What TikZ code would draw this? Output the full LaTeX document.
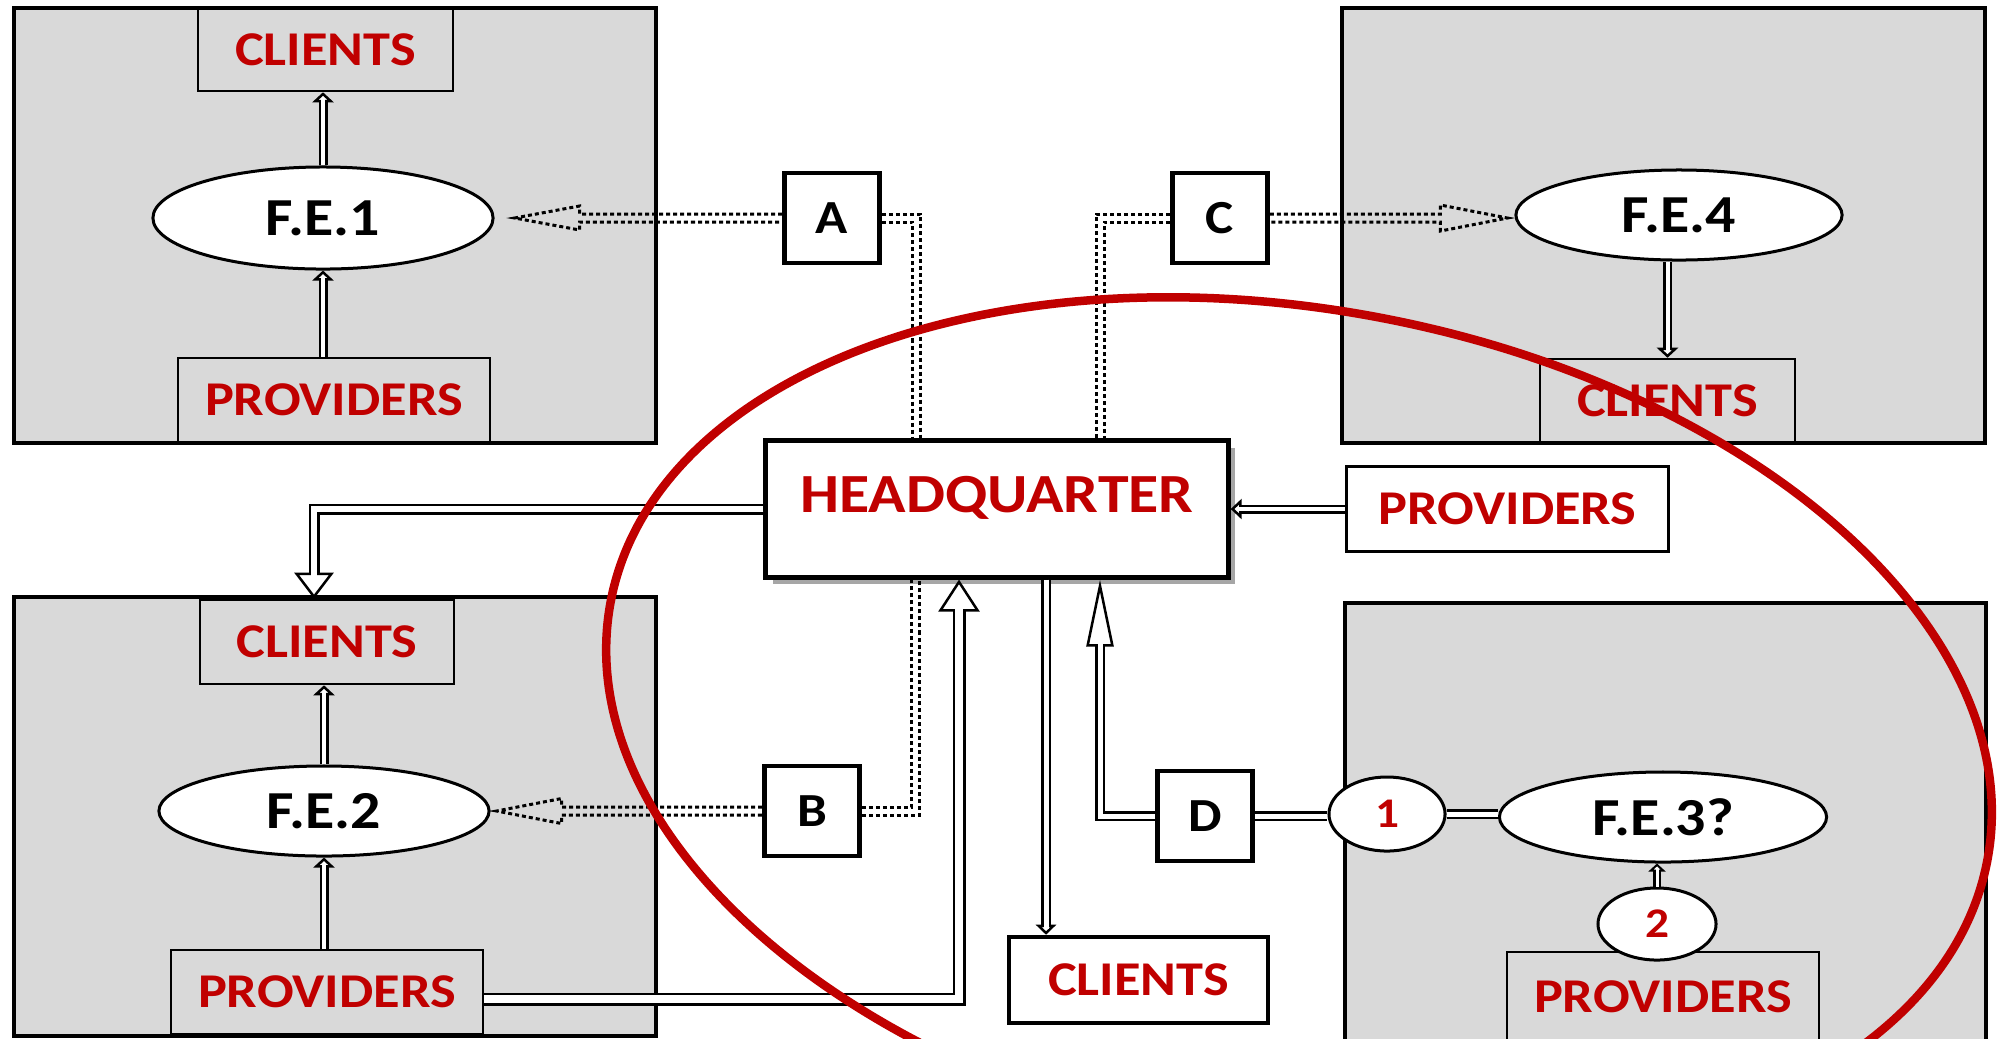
\documentclass[tikz,border=0pt]{standalone}
\usepackage{fontspec}
\setmainfont{Carlito}[FakeStretch=1.12]
\usetikzlibrary{arrows.meta,calc,shadows,shapes.geometric}
\definecolor{dred}{HTML}{C00000}
\definecolor{fgray}{HTML}{D9D9D9}
\begin{document}
\begin{tikzpicture}[x=0.01cm,y=-0.01cm,
  frame/.style={draw, fill=fgray, line width=0.045cm, inner sep=0pt},
  ibox/.style={draw, line width=0.025cm, inner sep=0pt, text=dred, font=\fontsize{13.8}{16}\selectfont\bfseries},
  wbox/.style={draw, fill=white, inner sep=0pt, text=dred, font=\fontsize{13.8}{16}\selectfont\bfseries},
  fe/.style={ellipse, draw, fill=white, line width=0.03cm, inner sep=0pt, font=\fontsize{15.2}{18}\selectfont\bfseries},
  num/.style={ellipse, draw, fill=white, line width=0.03cm, inner sep=0pt, text=dred, font=\fontsize{12}{14}\selectfont\bfseries, minimum width=1.16cm, minimum height=0.74cm},
  lbox/.style={draw, fill=white, line width=0.045cm, inner sep=0pt, font=\fontsize{13.5}{16}\selectfont\bfseries, minimum width=0.95cm, minimum height=0.9cm},
  dotline/.style={line width=0.03cm, dash pattern=on 0.04cm off 0.03cm},
  hollow/.style n args={3}{line width=0.025cm, -{Triangle[length=#2, width=#3, fill=white]},
    preaction={draw, -, line width=#1, shorten >=#2-0.015cm},
    postaction={draw, -, white, line width=#1-0.05cm, shorten >=#2-0.04cm}},
  dline/.style={line width=#1, postaction={draw, white, line width=#1-0.05cm}}
]
\useasboundingbox (0,0) rectangle (1997,1038);
\fill[white] (0,0) rectangle (1997,1038);

% frames
\node[frame, minimum width=6.42cm, minimum height=4.35cm] (fr1) at (335,225.5) {};
\node[frame, minimum width=6.43cm, minimum height=4.35cm] (fr3) at (1663.5,225.5) {};
\node[frame, minimum width=6.42cm, minimum height=4.39cm] (fr2) at (335,816.5) {};
\node[frame, minimum width=6.41cm, minimum height=4.4cm] (fr4) at (1665.5,823) {};

% top-left
\node[ibox, minimum width=2.55cm, minimum height=0.82cm] (cl1) at (325.5,50) {CLIENTS};
\node[ibox, minimum width=3.12cm, minimum height=0.84cm] (pr1) at (334,400) {PROVIDERS};
\node[fe, minimum width=3.4cm, minimum height=1.02cm] (fe1) at (323,218) {F.E.1};

% letters
\node[lbox] (A) at (832,218) {A};
\node[lbox] (C) at (1220,218) {C};
\node[lbox] (B) at (812,811) {B};
\node[lbox] (D) at (1205,816) {D};

% top-right
\node[fe, minimum width=3.26cm, minimum height=0.9cm] (fe4) at (1679,215) {F.E.4};
\node[ibox, minimum width=2.55cm, minimum height=0.83cm] (cl4) at (1667.5,400.5) {CLIENTS};

% headquarter
\node[draw, fill=white, line width=0.05cm, minimum width=4.62cm, minimum height=1.36cm,
  drop shadow={shadow xshift=0.07cm, shadow yshift=-0.07cm, opacity=0.35, fill=black}] (hq) at (997,509) {};
\node[text=dred, font=\fontsize{15.7}{18}\selectfont\bfseries, anchor=base, inner sep=0pt] (hqt) at (997,512) {HEADQUARTER};
\node[wbox, line width=0.03cm, minimum width=3.22cm, minimum height=0.85cm] (prm) at (1507.5,509) {PROVIDERS};

% bottom-left
\node[ibox, minimum width=2.54cm, minimum height=0.84cm] (cl2) at (327,642) {CLIENTS};
\node[fe, minimum width=3.3cm, minimum height=0.9cm] (fe2) at (324,811) {F.E.2};
\node[ibox, minimum width=3.12cm, minimum height=0.84cm] (pr2) at (327,992) {PROVIDERS};

% bottom middle
\node[wbox, line width=0.045cm, minimum width=2.59cm, minimum height=0.86cm] (cl3) at (1138.5,980) {CLIENTS};

% bottom-right
\node[ibox, minimum width=3.12cm, minimum height=0.9cm] (pr4) at (1663,997) {PROVIDERS};
\node[num] (e1) at (1387,814) {1};
\node[fe, minimum width=3.27cm, minimum height=0.9cm] (fe3) at (1663,817) {F.E.3?};
\node[num, minimum width=1.18cm, minimum height=0.72cm] (e2) at (1657,924) {2};

% arrows inside frames
\draw[hollow={0.09cm}{0.1cm}{0.21cm}] (fe1.north) -- (fe1.north |- cl1.south);
\draw[hollow={0.09cm}{0.1cm}{0.21cm}] (pr1.north -| fe1.south) -- (fe1.south);
\draw[hollow={0.09cm}{0.1cm}{0.21cm}] (fe2.north) -- (fe2.north |- cl2.south);
\draw[hollow={0.09cm}{0.1cm}{0.21cm}] (pr2.north -| fe2.south) -- (fe2.south);
\draw[hollow={0.09cm}{0.1cm}{0.21cm}] (cl4.north |- fe4.south) -- (cl4.north);
\draw[hollow={0.08cm}{0.08cm}{0.17cm}] (e2.north) -- (e2.north |- fe3.south);

% headquarter connectors
\draw[hollow={0.11cm}{0.26cm}{0.39cm}] (hq.west) -| ($(cl2.north)+(-13,0)$);
\draw[hollow={0.13cm}{0.32cm}{0.41cm}] ($(pr2.east)+(0,7)$) -| ($(hq.south)+(-38,0)$);
\coordinate (h3) at ($(hq.south)+(49,0)$);
\draw[hollow={0.10cm}{0.10cm}{0.2cm}] (h3) -- (h3 |- cl3.north);
\draw[hollow={0.10cm}{0.67cm}{0.27cm}] (D.west) -| ($(hq.south)+(103,0)$);
\draw[hollow={0.09cm}{0.11cm}{0.2cm}] (prm.west) -- (prm.west -| hq.east);
\draw[dline=0.1cm] (D.east) -- (D.east -| e1.west);
\draw[dline=0.1cm] (e1.east) -- (e1.east -| fe3.west);

% dotted connectors
\coordinate (tA) at ($(A.west -| fe1.east)+(20,0)$);
\draw[dotline] ($(A.west)+(0,-4)$) -- ($(tA)+(65,-4)$) -- ($(tA)+(65,-12)$) -- (tA)
  -- ($(tA)+(65,12)$) -- ($(tA)+(65,4)$) -- ($(A.west)+(0,4)$);
\coordinate (tB) at ($(B.west -| fe2.east)+(6,0)$);
\draw[dotline] ($(B.west)+(0,-4)$) -- ($(tB)+(65,-4)$) -- ($(tB)+(65,-12.5)$) -- (tB)
  -- ($(tB)+(65,12.5)$) -- ($(tB)+(65,4)$) -- ($(B.west)+(0,4)$);
\coordinate (tC) at ($(C.east -| fe4.west)+(-7,0)$);
\draw[dotline] ($(C.east)+(0,-4)$) -- ($(tC)+(-67,-4)$) -- ($(tC)+(-67,-13)$) -- (tC)
  -- ($(tC)+(-67,13)$) -- ($(tC)+(-67,4)$) -- ($(C.east)+(0,4)$);

\draw[dotline] ($(A.east)+(0,-4)$) -| ($(hq.north west)+(157,0)$);
\draw[dotline] ($(A.east)+(0,4)$) -| ($(hq.north west)+(149,0)$);
\draw[dotline] ($(C.west)+(0,-4)$) -| ($(hq.north west)+(333,0)$);
\draw[dotline] ($(C.west)+(0,4)$) -| ($(hq.north west)+(341,0)$);
\draw[dotline] ($(B.east)+(0,-4)$) -| ($(hq.south west)+(148,0)$);
\draw[dotline] ($(B.east)+(0,4)$) -| ($(hq.south west)+(156,0)$);

% red ellipse
\draw[dred, line width=0.085cm, rotate around={-10.6:(1299,731)}] (1299,731) ellipse [x radius=7cm, y radius=4.21cm];
\end{tikzpicture}
\end{document}
